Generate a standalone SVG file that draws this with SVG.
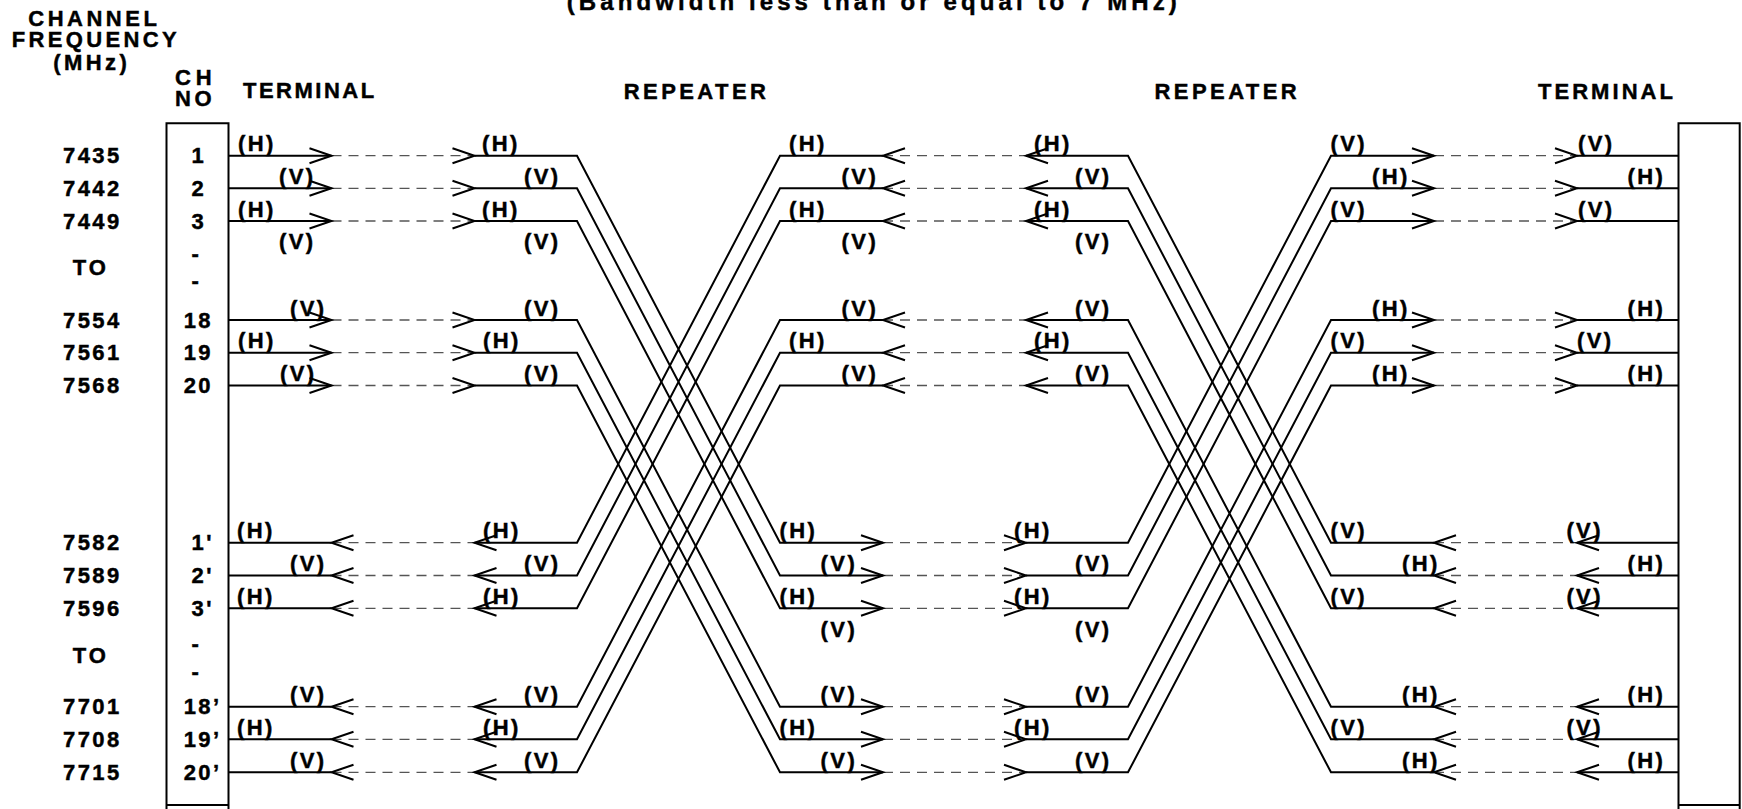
<svg xmlns="http://www.w3.org/2000/svg" xmlns:xlink="http://www.w3.org/1999/xlink" width="1742" height="809" viewBox="0 0 1742 809">
<style>
  .t { font-family: "Liberation Sans", Arial, Helvetica, sans-serif; font-weight: bold; font-size: 22px; fill: #000; stroke: #000; stroke-width: 0.45px; }
  .lb { letter-spacing: 2.4px; }
  .ln { fill: none; stroke: #000; stroke-width: 2; stroke-linejoin: miter; }
  .ds { fill: none; stroke: #555; stroke-width: 1.3; stroke-dasharray: 10 7; }
  .ah { fill: none; stroke: #000; stroke-width: 2; stroke-linejoin: miter; }
</style>
<defs>
  <path id="aR" class="ah" d="M-22,-7.5L0,0L-22,7.5"/>
  <path id="aL" class="ah" d="M22,-7.5L0,0L22,7.5"/>
</defs>
<rect width="1742" height="809" fill="#fff"/>

<g id="headings" class="t">
  <text x="566.7" y="10" style="font-size:24px;letter-spacing:4.09px">(Bandwidth less than or equal to 7 MHz)</text>
  <text x="28.3" y="26" style="letter-spacing:3.5px">CHANNEL</text>
  <text x="11.7" y="46.7" style="letter-spacing:3.36px">FREQUENCY</text>
  <text x="53.3" y="70" style="letter-spacing:3.4px">(MHz)</text>
  <text x="175" y="85" style="letter-spacing:4.9px">CH</text>
  <text x="175" y="106" style="letter-spacing:3.7px">NO</text>
  <text x="243" y="97.7" style="letter-spacing:2.5px">TERMINAL</text>
  <text x="623.7" y="98.5" style="letter-spacing:3.44px">REPEATER</text>
  <text x="1154.5" y="98.5" style="letter-spacing:3.44px">REPEATER</text>
  <text x="1538" y="98.5" style="letter-spacing:3.04px">TERMINAL</text>
</g>

<g id="frequencies" class="t lb">
  <text x="63" y="163.2">7435</text>
  <text x="63" y="195.8">7442</text>
  <text x="63" y="228.5">7449</text>
  <text x="72.7" y="275" style="letter-spacing:3.1px">TO</text>
  <text x="63" y="327.5">7554</text>
  <text x="63" y="360.2">7561</text>
  <text x="63" y="393">7568</text>
  <text x="63" y="550.2">7582</text>
  <text x="63" y="583">7589</text>
  <text x="63" y="615.8">7596</text>
  <text x="72.7" y="663.3" style="letter-spacing:3.1px">TO</text>
  <text x="63" y="714.2">7701</text>
  <text x="63" y="746.8">7708</text>
  <text x="63" y="779.8">7715</text>
</g>

<g id="terminal-left">
  <path class="ln" d="M166.5,123.3V809M228.5,123.3V809M165.5,123.3H229.5M165.5,805H229.5"/>
  <g class="t lb">
    <text x="191.5" y="163.2">1</text>
    <text x="191.5" y="195.8">2</text>
    <text x="191.5" y="228.5">3</text>
    <text x="191.5" y="260.8">-</text>
    <text x="191.5" y="288">-</text>
    <text x="183.7" y="327.5">18</text>
    <text x="183.7" y="360.2">19</text>
    <text x="183.7" y="393">20</text>
    <text x="191.5" y="550.2">1'</text>
    <text x="191.5" y="583">2'</text>
    <text x="191.5" y="615.8">3'</text>
    <text x="191.5" y="651.3">-</text>
    <text x="191.5" y="678.7">-</text>
    <text x="183.7" y="714.2">18’</text>
    <text x="183.7" y="746.8">19’</text>
    <text x="183.7" y="779.8">20’</text>
  </g>
</g>

<g id="terminal-right">
  <path class="ln" d="M1678.5,123.3V809M1739.7,123.3V809M1677.5,123.3H1740.7M1677.5,805H1740.7"/>
</g>

<g id="connectors">
  <g id="dashed-links" class="ds">
    <path d="M331.5,155.7H474.5M883,155.7H1026M1434,155.7H1577"/>
    <path d="M331.5,188.3H474.5M883,188.3H1026M1434,188.3H1577"/>
    <path d="M331.5,221H474.5M883,221H1026M1434,221H1577"/>
    <path d="M331.5,320H474.5M883,320H1026M1434,320H1577"/>
    <path d="M331.5,352.7H474.5M883,352.7H1026M1434,352.7H1577"/>
    <path d="M331.5,385.5H474.5M883,385.5H1026M1434,385.5H1577"/>
    <path d="M331.5,542.7H474.5M883,542.7H1026M1434,542.7H1577"/>
    <path d="M331.5,575.5H474.5M883,575.5H1026M1434,575.5H1577"/>
    <path d="M331.5,608.3H474.5M883,608.3H1026M1434,608.3H1577"/>
    <path d="M331.5,706.7H474.5M883,706.7H1026M1434,706.7H1577"/>
    <path d="M331.5,739.3H474.5M883,739.3H1026M1434,739.3H1577"/>
    <path d="M331.5,772.3H474.5M883,772.3H1026M1434,772.3H1577"/>
  </g>
  <g id="solid-paths" class="ln">
    <path d="M228.5,155.7H331.5M474.5,155.7H577L780,542.7H883M1026,542.7H1128L1331,155.7H1434M1577,155.7H1679M1679,542.7H1577M1434,542.7H1331L1128,155.7H1026M883,155.7H780L577,542.7H474.5M331.5,542.7H228.5"/>
    <path d="M228.5,188.3H331.5M474.5,188.3H577L780,575.5H883M1026,575.5H1128L1331,188.3H1434M1577,188.3H1679M1679,575.5H1577M1434,575.5H1331L1128,188.3H1026M883,188.3H780L577,575.5H474.5M331.5,575.5H228.5"/>
    <path d="M228.5,221H331.5M474.5,221H577L780,608.3H883M1026,608.3H1128L1331,221H1434M1577,221H1679M1679,608.3H1577M1434,608.3H1331L1128,221H1026M883,221H780L577,608.3H474.5M331.5,608.3H228.5"/>
    <path d="M228.5,320H331.5M474.5,320H577L780,706.7H883M1026,706.7H1128L1331,320H1434M1577,320H1679M1679,706.7H1577M1434,706.7H1331L1128,320H1026M883,320H780L577,706.7H474.5M331.5,706.7H228.5"/>
    <path d="M228.5,352.7H331.5M474.5,352.7H577L780,739.3H883M1026,739.3H1128L1331,352.7H1434M1577,352.7H1679M1679,739.3H1577M1434,739.3H1331L1128,352.7H1026M883,352.7H780L577,739.3H474.5M331.5,739.3H228.5"/>
    <path d="M228.5,385.5H331.5M474.5,385.5H577L780,772.3H883M1026,772.3H1128L1331,385.5H1434M1577,385.5H1679M1679,772.3H1577M1434,772.3H1331L1128,385.5H1026M883,385.5H780L577,772.3H474.5M331.5,772.3H228.5"/>
  </g>
  <g id="arrowheads">
    <use xlink:href="#aR" x="331.5" y="155.7"/><use xlink:href="#aR" x="474.5" y="155.7"/><use xlink:href="#aL" x="883" y="155.7"/><use xlink:href="#aL" x="1026" y="155.7"/><use xlink:href="#aR" x="1434" y="155.7"/><use xlink:href="#aR" x="1577" y="155.7"/>
    <use xlink:href="#aR" x="331.5" y="188.3"/><use xlink:href="#aR" x="474.5" y="188.3"/><use xlink:href="#aL" x="883" y="188.3"/><use xlink:href="#aL" x="1026" y="188.3"/><use xlink:href="#aR" x="1434" y="188.3"/><use xlink:href="#aR" x="1577" y="188.3"/>
    <use xlink:href="#aR" x="331.5" y="221"/><use xlink:href="#aR" x="474.5" y="221"/><use xlink:href="#aL" x="883" y="221"/><use xlink:href="#aL" x="1026" y="221"/><use xlink:href="#aR" x="1434" y="221"/><use xlink:href="#aR" x="1577" y="221"/>
    <use xlink:href="#aR" x="331.5" y="320"/><use xlink:href="#aR" x="474.5" y="320"/><use xlink:href="#aL" x="883" y="320"/><use xlink:href="#aL" x="1026" y="320"/><use xlink:href="#aR" x="1434" y="320"/><use xlink:href="#aR" x="1577" y="320"/>
    <use xlink:href="#aR" x="331.5" y="352.7"/><use xlink:href="#aR" x="474.5" y="352.7"/><use xlink:href="#aL" x="883" y="352.7"/><use xlink:href="#aL" x="1026" y="352.7"/><use xlink:href="#aR" x="1434" y="352.7"/><use xlink:href="#aR" x="1577" y="352.7"/>
    <use xlink:href="#aR" x="331.5" y="385.5"/><use xlink:href="#aR" x="474.5" y="385.5"/><use xlink:href="#aL" x="883" y="385.5"/><use xlink:href="#aL" x="1026" y="385.5"/><use xlink:href="#aR" x="1434" y="385.5"/><use xlink:href="#aR" x="1577" y="385.5"/>
    <use xlink:href="#aL" x="331.5" y="542.7"/><use xlink:href="#aL" x="474.5" y="542.7"/><use xlink:href="#aR" x="883" y="542.7"/><use xlink:href="#aR" x="1026" y="542.7"/><use xlink:href="#aL" x="1434" y="542.7"/><use xlink:href="#aL" x="1577" y="542.7"/>
    <use xlink:href="#aL" x="331.5" y="575.5"/><use xlink:href="#aL" x="474.5" y="575.5"/><use xlink:href="#aR" x="883" y="575.5"/><use xlink:href="#aR" x="1026" y="575.5"/><use xlink:href="#aL" x="1434" y="575.5"/><use xlink:href="#aL" x="1577" y="575.5"/>
    <use xlink:href="#aL" x="331.5" y="608.3"/><use xlink:href="#aL" x="474.5" y="608.3"/><use xlink:href="#aR" x="883" y="608.3"/><use xlink:href="#aR" x="1026" y="608.3"/><use xlink:href="#aL" x="1434" y="608.3"/><use xlink:href="#aL" x="1577" y="608.3"/>
    <use xlink:href="#aL" x="331.5" y="706.7"/><use xlink:href="#aL" x="474.5" y="706.7"/><use xlink:href="#aR" x="883" y="706.7"/><use xlink:href="#aR" x="1026" y="706.7"/><use xlink:href="#aL" x="1434" y="706.7"/><use xlink:href="#aL" x="1577" y="706.7"/>
    <use xlink:href="#aL" x="331.5" y="739.3"/><use xlink:href="#aL" x="474.5" y="739.3"/><use xlink:href="#aR" x="883" y="739.3"/><use xlink:href="#aR" x="1026" y="739.3"/><use xlink:href="#aL" x="1434" y="739.3"/><use xlink:href="#aL" x="1577" y="739.3"/>
    <use xlink:href="#aL" x="331.5" y="772.3"/><use xlink:href="#aL" x="474.5" y="772.3"/><use xlink:href="#aR" x="883" y="772.3"/><use xlink:href="#aR" x="1026" y="772.3"/><use xlink:href="#aL" x="1434" y="772.3"/><use xlink:href="#aL" x="1577" y="772.3"/>
  </g>
</g>

<g id="polarisation-labels" class="t lb">
  <!-- segment 1 : terminal to repeater 1 -->
  <text x="238" y="151.2">(H)</text><text x="482" y="151.2">(H)</text>
  <text x="279" y="183.8">(V)</text><text x="524" y="183.8">(V)</text>
  <text x="238" y="216.5">(H)</text><text x="482" y="216.5">(H)</text>
  <text x="279" y="249.2">(V)</text><text x="524" y="249.2">(V)</text>
  <text x="290" y="315.5">(V)</text><text x="524" y="315.5">(V)</text>
  <text x="238" y="348.2">(H)</text><text x="483" y="348.2">(H)</text>
  <text x="280" y="381">(V)</text><text x="524" y="381">(V)</text>
  <text x="237" y="538.2">(H)</text><text x="483" y="538.2">(H)</text>
  <text x="290" y="571">(V)</text><text x="524" y="571">(V)</text>
  <text x="237" y="603.8">(H)</text><text x="483" y="603.8">(H)</text>
  <text x="290" y="702.2">(V)</text><text x="524" y="702.2">(V)</text>
  <text x="237" y="734.8">(H)</text><text x="483" y="734.8">(H)</text>
  <text x="290" y="767.8">(V)</text><text x="524" y="767.8">(V)</text>
  <!-- segment 2 : repeater 1 to repeater 2 -->
  <text x="789" y="151.2">(H)</text><text x="1034" y="151.2">(H)</text>
  <text x="841.6" y="183.8">(V)</text><text x="1075" y="183.8">(V)</text>
  <text x="789" y="216.5">(H)</text><text x="1034" y="216.5">(H)</text>
  <text x="841.6" y="249.2">(V)</text><text x="1075" y="249.2">(V)</text>
  <text x="841.6" y="315.5">(V)</text><text x="1075" y="315.5">(V)</text>
  <text x="789" y="348.2">(H)</text><text x="1034" y="348.2">(H)</text>
  <text x="841.6" y="381">(V)</text><text x="1075" y="381">(V)</text>
  <text x="779.6" y="538.2">(H)</text><text x="1014" y="538.2">(H)</text>
  <text x="820.6" y="571">(V)</text><text x="1075" y="571">(V)</text>
  <text x="779.6" y="603.8">(H)</text><text x="1014" y="603.8">(H)</text>
  <text x="820.6" y="636.6">(V)</text><text x="1075" y="636.6">(V)</text>
  <text x="820.6" y="702.2">(V)</text><text x="1075" y="702.2">(V)</text>
  <text x="779.6" y="734.8">(H)</text><text x="1014" y="734.8">(H)</text>
  <text x="820.6" y="767.8">(V)</text><text x="1075" y="767.8">(V)</text>
  <!-- segment 3 : repeater 2 to terminal -->
  <text x="1330.5" y="151.2">(V)</text><text x="1578" y="151.2">(V)</text>
  <text x="1372" y="183.8">(H)</text><text x="1627.6" y="183.8">(H)</text>
  <text x="1330.5" y="216.5">(V)</text><text x="1578" y="216.5">(V)</text>
  <text x="1372" y="315.5">(H)</text><text x="1627.6" y="315.5">(H)</text>
  <text x="1330.5" y="348.2">(V)</text><text x="1577" y="348.2">(V)</text>
  <text x="1372" y="381">(H)</text><text x="1627.6" y="381">(H)</text>
  <text x="1330.5" y="538.2">(V)</text><text x="1566.4" y="538.2">(V)</text>
  <text x="1402" y="571">(H)</text><text x="1627.6" y="571">(H)</text>
  <text x="1330.5" y="603.8">(V)</text><text x="1566.4" y="603.8">(V)</text>
  <text x="1402" y="702.2">(H)</text><text x="1627.6" y="702.2">(H)</text>
  <text x="1330.5" y="734.8">(V)</text><text x="1566.4" y="734.8">(V)</text>
  <text x="1402" y="767.8">(H)</text><text x="1627.6" y="767.8">(H)</text>
</g>
</svg>
